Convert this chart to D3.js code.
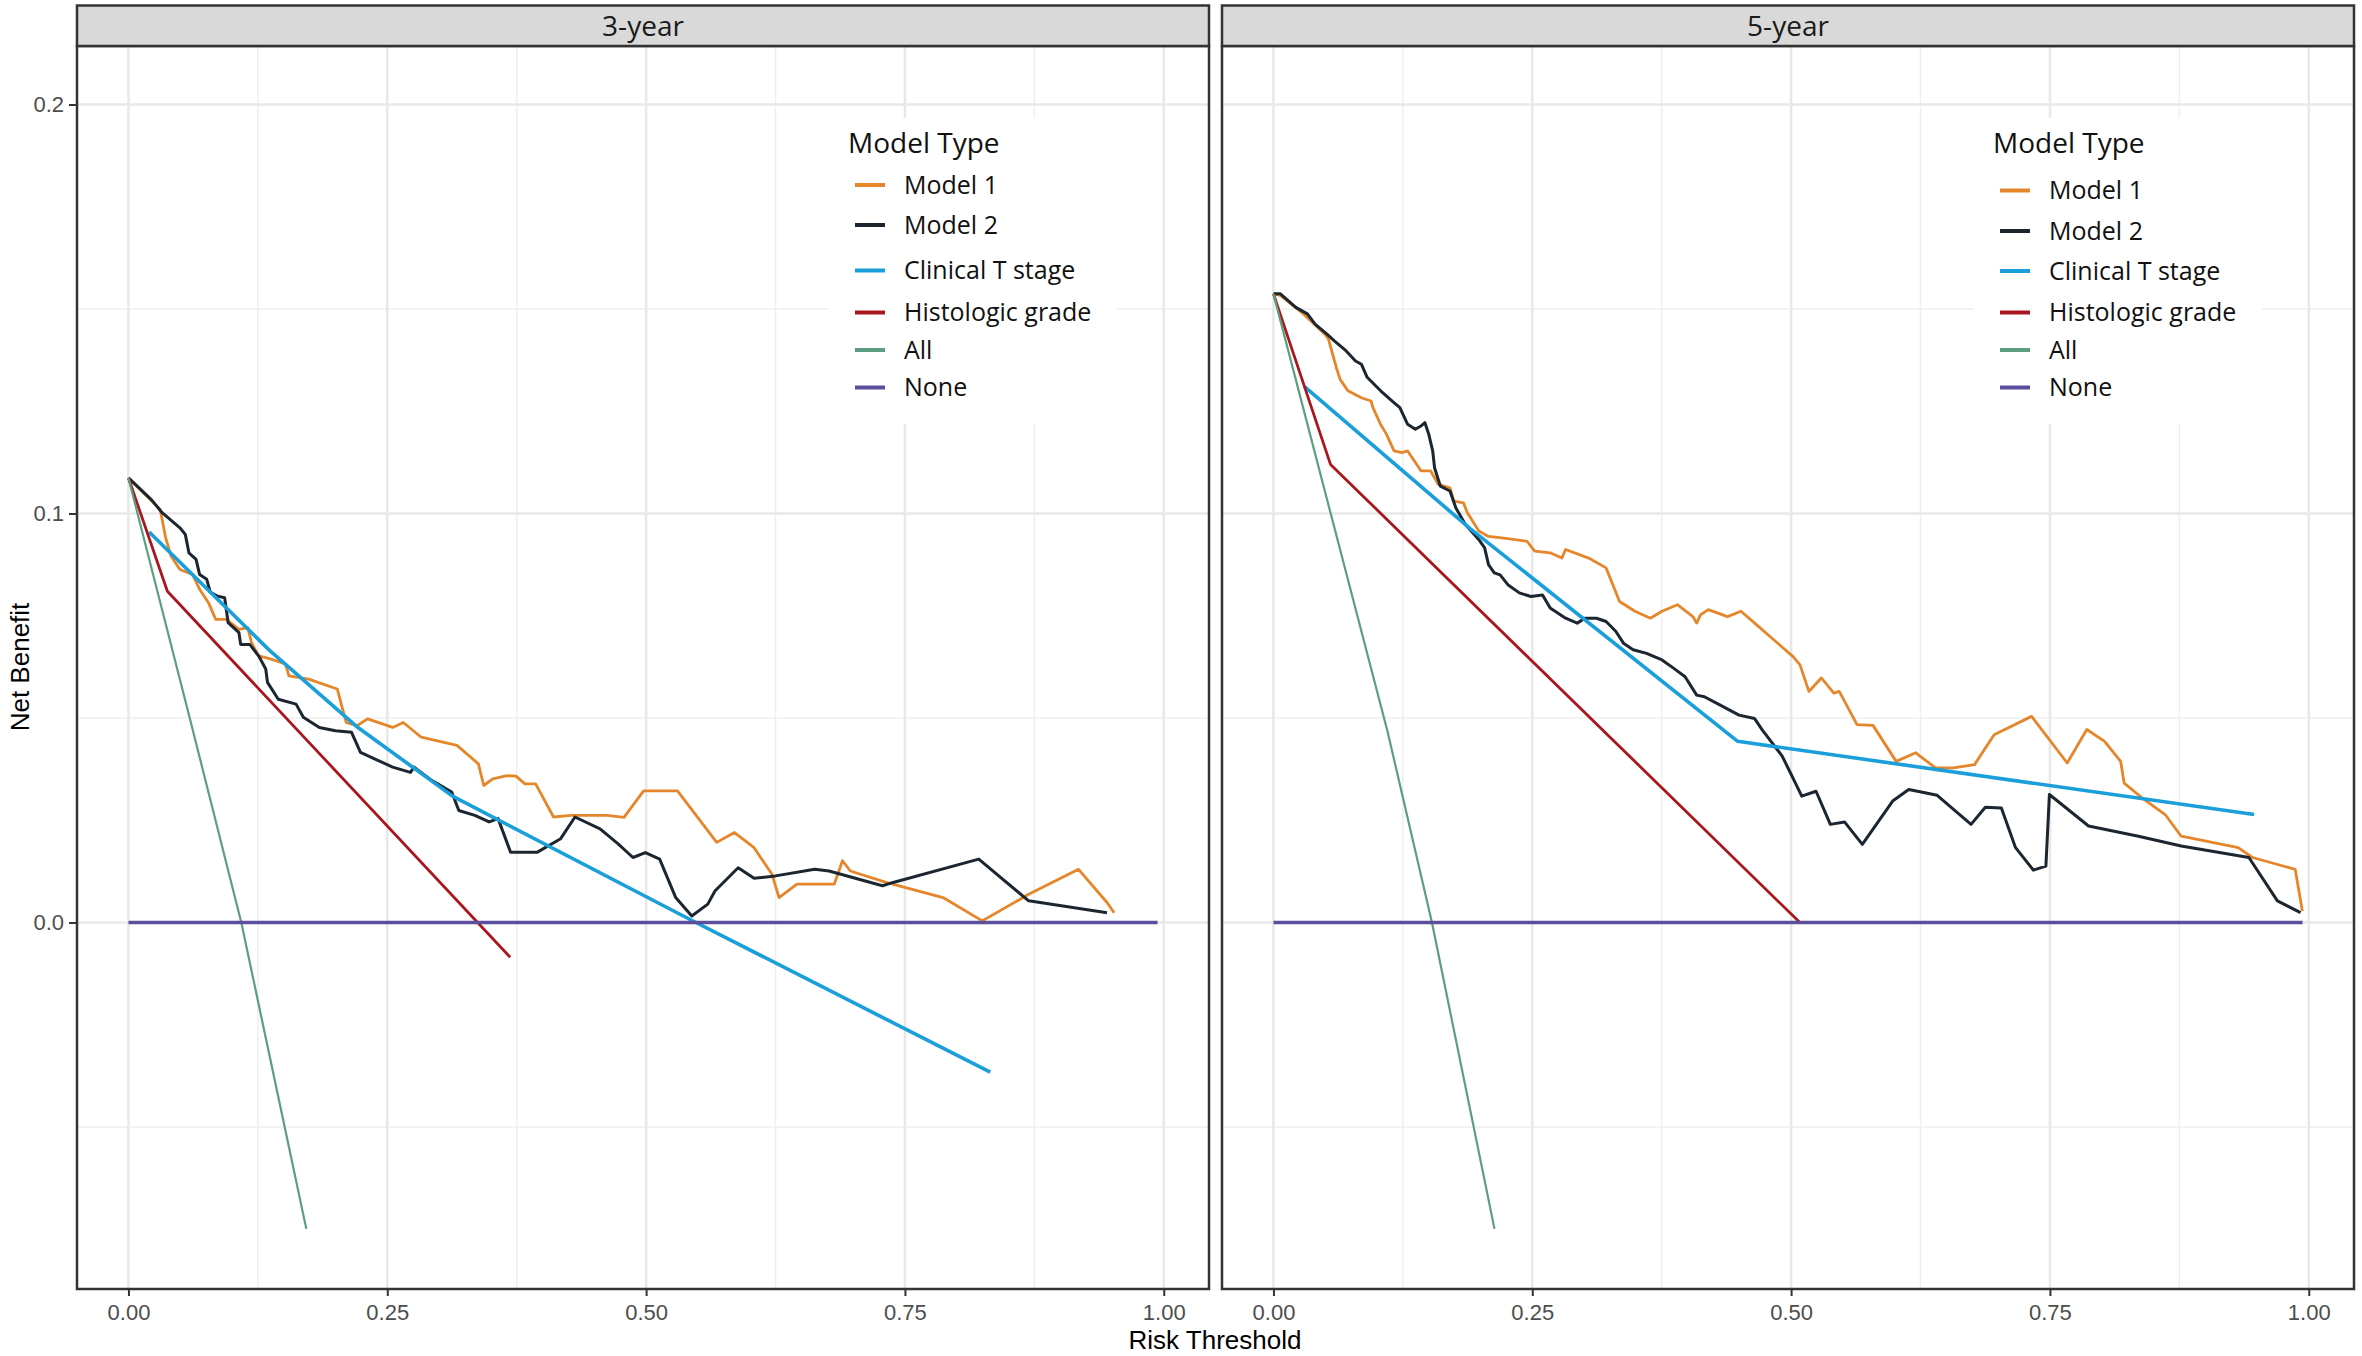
<!DOCTYPE html>
<html>
<head>
<meta charset="utf-8">
<script src="https://cdn.jsdelivr.net/npm/d3@7"></script>
<style>
  body { margin: 0; background: #fff; }
  svg text { font-family: "Liberation Sans", Arial, sans-serif; }
  .legend text, .strip text { font-family: "Open Sans", "Noto Sans", sans-serif; }
</style>
</head>
<body>
<svg id="chart" width="2362" height="1356"></svg>
<script>
// facet titles, series and ticks
const panelTitles = ["3-year", "5-year"];
const seriesNames = ["Model 1", "Model 2", "Clinical T stage", "Histologic grade", "All", "None"];
const xTicks = [0, 0.25, 0.5, 0.75, 1];
const yTicks = [0, 0.1, 0.2];

// 3-year curves, [threshold, net benefit]
const model1_3y = [[0,0.1087],[0.0307,0.101],[0.0359,0.0941],[0.0411,0.0896],[0.0497,0.0863],[0.0618,0.0851],[0.0687,0.0815],[0.0773,0.0782],[0.0843,0.0741],[0.0946,0.0741],[0.1067,0.0717],[0.1153,0.0721],[0.1188,0.0685],[0.1257,0.0652],[0.1378,0.0644],[0.1516,0.0632],[0.155,0.0603],[0.174,0.0595],[0.2017,0.0571],[0.2103,0.0489],[0.2206,0.0481],[0.231,0.0498],[0.2552,0.0477],[0.2655,0.0489],[0.2828,0.0453],[0.3173,0.0433],[0.338,0.0388],[0.3432,0.0335],[0.3519,0.0351],[0.3657,0.0359],[0.3743,0.0358],[0.383,0.0339],[0.3933,0.0339],[0.4106,0.0258],[0.4278,0.0262],[0.4624,0.0262],[0.4786,0.0257],[0.4976,0.0322],[0.5303,0.0322],[0.5682,0.0196],[0.5854,0.022],[0.6043,0.0183],[0.6216,0.0118],[0.6284,0.0061],[0.6457,0.0094],[0.6818,0.0094],[0.6897,0.0151],[0.6973,0.0126],[0.7317,0.0098],[0.7868,0.0061],[0.8247,0.0004],[0.8695,0.0069],[0.9177,0.013],[0.9452,0.0049],[0.9521,0.0024]];
const model2_3y = [[0,0.1087],[0.0221,0.1034],[0.0325,0.1002],[0.0497,0.0965],[0.0549,0.0949],[0.0584,0.0904],[0.0653,0.0888],[0.0687,0.0851],[0.0756,0.0839],[0.0791,0.0807],[0.086,0.0798],[0.0929,0.0794],[0.0963,0.0733],[0.1067,0.0709],[0.1084,0.068],[0.1171,0.068],[0.1257,0.0652],[0.1326,0.062],[0.1343,0.0587],[0.1447,0.0546],[0.1619,0.0534],[0.1689,0.0502],[0.1844,0.0477],[0.1999,0.0469],[0.2155,0.0465],[0.2241,0.0416],[0.2414,0.0396],[0.2552,0.038],[0.2724,0.0367],[0.2759,0.038],[0.2932,0.0347],[0.3122,0.0319],[0.3191,0.0274],[0.3346,0.0262],[0.3484,0.0246],[0.357,0.0254],[0.3691,0.0172],[0.395,0.0172],[0.4175,0.0205],[0.4313,0.0258],[0.4555,0.0229],[0.4727,0.0193],[0.4873,0.0159],[0.4993,0.0171],[0.5131,0.0155],[0.5286,0.0061],[0.5441,0.0016],[0.5596,0.0045],[0.5665,0.0077],[0.5889,0.0134],[0.6043,0.0108],[0.625,0.0114],[0.6629,0.013],[0.6767,0.0126],[0.7283,0.009],[0.7386,0.0098],[0.8213,0.0155],[0.8695,0.0053],[0.9452,0.0024]];
const tstage_3y = [[0.02,0.0955],[0.136,0.0666],[0.22,0.048],[0.313,0.0309],[0.542,0.0008],[0.8324,-0.0366]];
const grade_3y = [[0,0.1087],[0.0376,0.081],[0.3687,-0.0085]];
const all_3y = [[0,0.1087],[0.0592,0.05],[0.109,0],[0.1509,-0.05],[0.1718,-0.0749]];
const none_3y = [[0,0],[0.994,0]];

// 5-year curves
const model1_5y = [[0,0.1537],[0.0067,0.1533],[0.029,0.1488],[0.0495,0.1439],[0.0532,0.1426],[0.0607,0.1357],[0.0644,0.1328],[0.0719,0.13],[0.0849,0.1283],[0.0942,0.1275],[0.0961,0.1259],[0.1035,0.1218],[0.1091,0.1194],[0.1165,0.1153],[0.124,0.1149],[0.1296,0.1153],[0.1426,0.1104],[0.1519,0.1104],[0.1593,0.1071],[0.1705,0.1063],[0.1742,0.103],[0.1835,0.1026],[0.1873,0.1002],[0.1984,0.0957],[0.2077,0.0944],[0.2226,0.094],[0.245,0.0932],[0.2524,0.0908],[0.2673,0.0904],[0.2785,0.0891],[0.2822,0.0912],[0.3045,0.0891],[0.3213,0.0867],[0.3343,0.0785],[0.3492,0.0761],[0.3641,0.0744],[0.3753,0.0761],[0.3902,0.0777],[0.4051,0.0748],[0.4088,0.0732],[0.4125,0.0752],[0.42,0.0765],[0.4386,0.0748],[0.4516,0.0761],[0.4684,0.0724],[0.5019,0.065],[0.5086,0.063],[0.5172,0.0565],[0.5292,0.0598],[0.5413,0.0561],[0.5465,0.0565],[0.5637,0.0484],[0.5791,0.0482],[0.6015,0.0394],[0.6204,0.0415],[0.6394,0.0378],[0.6566,0.0378],[0.6772,0.0386],[0.6961,0.0459],[0.7323,0.0504],[0.7667,0.039],[0.7856,0.0472],[0.8028,0.0443],[0.8183,0.0394],[0.8217,0.0341],[0.8389,0.0305],[0.8613,0.0264],[0.8768,0.0211],[0.9319,0.0183],[0.9456,0.0159],[0.9869,0.013],[0.9938,0.0028]];
const model2_5y = [[0,0.1537],[0.0067,0.1537],[0.0216,0.1504],[0.0328,0.1488],[0.0402,0.1463],[0.0514,0.1439],[0.0588,0.1422],[0.07,0.1398],[0.0793,0.1373],[0.0849,0.1365],[0.0905,0.1333],[0.1035,0.13],[0.1147,0.1275],[0.1221,0.1259],[0.1296,0.1218],[0.137,0.1206],[0.1426,0.1214],[0.1463,0.1222],[0.15,0.1194],[0.1538,0.1153],[0.1556,0.1112],[0.1612,0.1067],[0.1705,0.1055],[0.1761,0.1014],[0.1854,0.0973],[0.191,0.0957],[0.1984,0.0936],[0.204,0.0916],[0.2077,0.0875],[0.2133,0.0855],[0.2189,0.085],[0.2264,0.0826],[0.2375,0.0806],[0.2487,0.0797],[0.2599,0.0801],[0.2673,0.0769],[0.2822,0.0744],[0.2934,0.0732],[0.3008,0.0744],[0.312,0.0744],[0.3213,0.0736],[0.3306,0.0712],[0.3381,0.0683],[0.3474,0.0667],[0.3604,0.0658],[0.3753,0.0642],[0.3864,0.0622],[0.3976,0.0601],[0.4088,0.0556],[0.4162,0.0552],[0.4311,0.0532],[0.4497,0.0507],[0.4646,0.0499],[0.4721,0.0471],[0.4914,0.0407],[0.5103,0.0309],[0.5241,0.0321],[0.5379,0.024],[0.5516,0.0246],[0.5688,0.0191],[0.5981,0.0297],[0.6136,0.0325],[0.6411,0.0311],[0.6738,0.024],[0.6876,0.0282],[0.7031,0.028],[0.7168,0.0183],[0.734,0.0128],[0.7461,0.0138],[0.7495,0.0313],[0.7873,0.0236],[0.8355,0.0211],[0.8768,0.0187],[0.9422,0.0159],[0.9697,0.0053],[0.9921,0.0024]];
const tstage_5y = [[0.03,0.131],[0.1891,0.0965],[0.4484,0.0443],[0.9473,0.0264]];
const grade_5y = [[0,0.1537],[0.0551,0.112],[0.5085,0]];
const all_5y = [[0,0.1537],[0.1102,0.0467],[0.1531,0],[0.2135,-0.0749]];
const none_5y = [[0,0],[0.994,0]];

const panelData = [
  [model1_3y, model2_3y, tstage_3y, grade_3y, all_3y, none_3y],
  [model1_5y, model2_5y, tstage_5y, grade_5y, all_5y, none_5y]
];

// look
const colors = ["#e5862b", "#1b2630", "#1a9fdb", "#a8171d", "#5c9f80", "#5b4f9d"];
const widths = [2.8, 3, 3.6, 2.8, 2.2, 3.6];

const svg = d3.select("#chart");
svg.append("rect").attr("width", 2362).attr("height", 1356).attr("fill", "#fff");

const panelW = 1132;
const panelX = [77, 1222];
const stripTop = 5.5, plotTop = 46, plotBottom = 1289;
const legendRows = [[185, 225, 270.5, 312.5, 350, 387.5], [190.5, 231, 271, 312.5, 350, 387.5]];

const x = d3.scaleLinear().domain([-0.0497, 1.0437]).range([0, panelW]);
const y = d3.scaleLinear().domain([-0.0896, 0.2143]).range([plotBottom, plotTop]);

const line = d3.line().x(d => x(d[0])).y(d => y(d[1]));

panelTitles.forEach((title, p) => {
  const g = svg.append("g").attr("transform", `translate(${panelX[p]},0)`);

  // grid: minor then major
  const xMinor = [0.125, 0.375, 0.625, 0.875];
  const yMinor = [-0.05, 0.05, 0.15];
  g.selectAll(".xminor").data(xMinor).enter().append("line")
    .attr("x1", d => x(d)).attr("x2", d => x(d))
    .attr("y1", plotTop).attr("y2", plotBottom)
    .attr("stroke", "#efefef").attr("stroke-width", 1.5);
  g.selectAll(".yminor").data(yMinor).enter().append("line")
    .attr("x1", 0).attr("x2", panelW)
    .attr("y1", d => y(d)).attr("y2", d => y(d))
    .attr("stroke", "#efefef").attr("stroke-width", 1.5);
  g.selectAll(".xmajor").data(xTicks).enter().append("line")
    .attr("x1", d => x(d)).attr("x2", d => x(d))
    .attr("y1", plotTop).attr("y2", plotBottom)
    .attr("stroke", "#e8e8e8").attr("stroke-width", 2.5);
  g.selectAll(".ymajor").data(yTicks).enter().append("line")
    .attr("x1", 0).attr("x2", panelW)
    .attr("y1", d => y(d)).attr("y2", d => y(d))
    .attr("stroke", "#e8e8e8").attr("stroke-width", 2.5);

  // legend box sits inside the panel and hides the grid
  const lg = g.append("g").attr("class", "legend");
  lg.append("rect").attr("x", 752).attr("y", 118).attr("width", 288).attr("height", 306).attr("fill", "#fff");

  // curves
  panelData[p].forEach((pts, i) => {
    g.append("path")
      .attr("d", line(pts))
      .attr("fill", "none")
      .attr("stroke", colors[i])
      .attr("stroke-width", widths[i])
      .attr("stroke-linejoin", "round");
  });

  // legend content
  lg.append("text").attr("x", 771).attr("y", 143).attr("dy", "0.35em")
    .attr("font-size", 28).attr("fill", "#111").text("Model Type");
  seriesNames.forEach((name, i) => {
    const ry = legendRows[p][i];
    lg.append("line").attr("x1", 778).attr("x2", 808).attr("y1", ry).attr("y2", ry)
      .attr("stroke", colors[i]).attr("stroke-width", 4);
    lg.append("text").attr("x", 827).attr("y", ry).attr("dy", "0.35em")
      .attr("font-size", 25).attr("fill", "#111").text(name);
  });

  // panel border
  g.append("rect").attr("x", 0).attr("y", plotTop).attr("width", panelW).attr("height", plotBottom - plotTop)
    .attr("fill", "none").attr("stroke", "#333").attr("stroke-width", 2.5);

  // strip
  const st = g.append("g").attr("class", "strip");
  st.append("rect").attr("x", 0).attr("y", stripTop).attr("width", panelW).attr("height", plotTop - stripTop)
    .attr("fill", "#d9d9d9").attr("stroke", "#333").attr("stroke-width", 2.5);
  st.append("text").attr("x", panelW / 2).attr("y", (stripTop + plotTop) / 2).attr("dy", "0.35em")
    .attr("text-anchor", "middle").attr("font-size", 28).attr("fill", "#1a1a1a").text(title);

  // x axis
  const xa = g.append("g").attr("transform", `translate(0,${plotBottom})`)
    .call(d3.axisBottom(x).tickValues(xTicks).tickFormat(d3.format(".2f")).tickSizeOuter(0).tickSize(7).tickPadding(8));
  xa.select(".domain").remove();
  xa.selectAll("line").attr("stroke", "#333").attr("stroke-width", 2);
  xa.selectAll("text").attr("font-size", 22).attr("fill", "#4d4d4d")
    .style("font-family", "'Liberation Sans', Arial, sans-serif");

  // y axis only on the first panel
  if (p === 0) {
    const ya = g.append("g")
      .call(d3.axisLeft(y).tickValues(yTicks).tickFormat(d3.format(".1f")).tickSizeOuter(0).tickSize(8).tickPadding(5));
    ya.select(".domain").remove();
    ya.selectAll("line").attr("stroke", "#333").attr("stroke-width", 2);
    ya.selectAll("text").attr("font-size", 22).attr("fill", "#4d4d4d")
      .style("font-family", "'Liberation Sans', Arial, sans-serif");
  }
});

// axis titles
svg.append("text").attr("x", 1215).attr("y", 1349).attr("text-anchor", "middle")
  .attr("font-size", 26).attr("fill", "#000").text("Risk Threshold");
svg.append("text").attr("transform", "translate(29,667) rotate(-90)").attr("text-anchor", "middle")
  .attr("font-size", 26).attr("fill", "#000").text("Net Benefit");
</script>
</body>
</html>
